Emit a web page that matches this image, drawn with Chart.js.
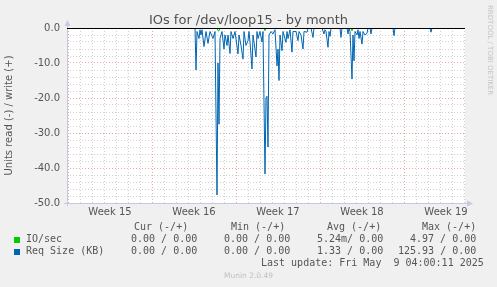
<!DOCTYPE html>
<html>
<head>
<meta charset="utf-8">
<script src="https://cdn.jsdelivr.net/npm/chart.js@4/dist/chart.umd.min.js"></script>
<style>
body { margin: 0; background: #f0f0f0; }
#wrap { position: relative; width: 497px; height: 287px; overflow: hidden; }
#c { position: absolute; left: 0; top: 0; }
.t { position: absolute; white-space: pre; font-family: 'DejaVu Sans Mono', monospace; font-size: 10px; line-height: 10px; color: #555; }
.box { position: absolute; width: 6px; height: 6px; }
#title { position: absolute; left: 0; top: 13px; width: 497px; text-align: center; font-family: 'DejaVu Sans', sans-serif; font-size: 13px; line-height: 13px; color: #505050; }
#rrd { position: absolute; left: 486px; top: 5px; writing-mode: vertical-rl; font-family: 'DejaVu Sans', sans-serif; font-size: 7px; line-height: 8px; color: #c4c4c4; white-space: nowrap; }
#munin { position: absolute; left: 0; top: 272px; width: 497px; text-align: center; font-family: 'DejaVu Sans', sans-serif; font-size: 7.5px; line-height: 8px; color: #c0c0c0; }
</style>
</head>
<body>
<div id="wrap">
  <canvas id="c" width="497" height="287"></canvas>
  <div id="title">IOs for /dev/loop15 - by month</div>
  <div id="rrd">RRDTOOL / TOBI OETIKER</div>

  <div class="t" style="left:134px;top:222px">Cur (-/+)</div>
  <div class="t" style="left:231px;top:222px">Min (-/+)</div>
  <div class="t" style="left:327px;top:222px">Avg (-/+)</div>
  <div class="t" style="left:422px;top:222px">Max (-/+)</div>

  <div class="box" style="left:14px;top:237px;background:#00cc00"></div>
  <div class="t" style="left:26px;top:234px">IO/sec</div>
  <div class="t" style="left:131px;top:234px">0.00 / 0.00</div>
  <div class="t" style="left:224px;top:234px">0.00 / 0.00</div>
  <div class="t" style="left:317px;top:234px">5.24m/ 0.00</div>
  <div class="t" style="left:410px;top:234px">4.97 / 0.00</div>

  <div class="box" style="left:14px;top:249px;background:#0066b3"></div>
  <div class="t" style="left:26px;top:246px">Req Size (KB)</div>
  <div class="t" style="left:131px;top:246px">0.00 / 0.00</div>
  <div class="t" style="left:224px;top:246px">0.00 / 0.00</div>
  <div class="t" style="left:317px;top:246px">1.33 / 0.00</div>
  <div class="t" style="left:398px;top:246px">125.93 / 0.00</div>

  <div class="t" style="left:261px;top:258px">Last update: Fri May  9 04:00:11 2025</div>
  <div id="munin">Munin 2.0.49</div>
</div>
<script>
// hours since week 15 start, one sample every 2h
const reqHours = [
  -2, 126, 128, 130, 254, 256, 258, 262, 264, 266,
  268, 272, 276, 280, 284, 290, 294, 298, 300, 302,
  304, 308, 312, 314, 318, 320, 324, 326, 330, 334,
  340, 342, 346, 350, 352, 356, 360, 362, 364, 368,
  370, 372, 376, 378, 380, 384, 388, 390, 394, 396,
  398, 400, 402, 406, 410, 414, 418, 420, 422, 424,
  428, 430, 436, 438, 440, 444, 448, 450, 456, 460,
  462, 466, 470, 472, 478, 480, 486, 490, 492, 508,
  512, 514, 516, 520, 522, 524, 526, 544, 546, 548,
  558, 560, 562, 564, 568, 570, 572, 574, 578, 580,
  582, 584, 588, 590, 594, 598, 600, 604, 606, 608,
  650, 652, 654, 724, 726, 728, 794
];
// Req Size (KB), read side (drawn negative)
const reqRead = [
  0, 0, -0.3, 0, 0, -12, -1, -3, -0.5, -2,
  -0.5, -5.3, -1, -4.4, -1, -3, -1, -47.7, -10, -27.5,
  -3, -1, -6, -2, -5, -2, -7.3, -1, -3, -1,
  -7.4, -2, -5, -8.9, -1, -5, -3.6, -1, -4, -11.7,
  -2, -4, -8.3, -1, -3, -1, -4, -1, -41.7, -20,
  -19.5, -34, -2, -1, -1.7, -0.5, -10.8, -6, -15, -2,
  -6.5, -1, -4.1, -1, -3, -0.5, -6.9, -1, -1, -3.6,
  -1, -2, -6, -1, -1.2, 0, 0, -2.7, 0, 0,
  -1.7, -0.5, -1, -5.5, -1, -2.4, 0, 0, -2.7, 0,
  0, -1.7, 0, -1, -14.6, -2, -9.4, -1, -2, -0.5,
  -3, -1, -4.6, -1, -2, -1.5, 0, 0, -1.7, 0,
  0, -2.2, 0, 0, -1.2, 0, 0
];
// IO/sec, read side
const ioHours = [-2, 298, 300, 302, 304, 392, 394, 396, 566, 568, 570, 794];
const ioRead = [0, 0, -0.8, -0.8, 0, 0, -0.8, 0, 0, -0.8, 0, 0];

const weekLabels = ['Week 15', 'Week 16', 'Week 17', 'Week 18', 'Week 19'];
const yMin = -50, yMax = 0;
const xMin = -2, xMax = 794;

const RED = '#e8a8a8';
const GRAY = '#d2d2d2';
const AXIS = '#c8c8e0';

const muninPlugin = {
  id: 'munin',
  beforeDraw(chart) {
    const {ctx, chartArea: a} = chart;
    ctx.save();
    ctx.fillStyle = '#ffffff';
    ctx.fillRect(a.left, a.top, a.right - a.left, a.bottom - a.top);
    ctx.restore();
  },
  afterDatasetsDraw(chart) {
    const {ctx, chartArea: a, scales} = chart;
    const y0 = Math.round(scales.y.getPixelForValue(0)) + 0.5;
    const xl = Math.round(a.left) + 0.5;
    const yb = Math.round(a.bottom) + 0.5;
    ctx.save();
    ctx.lineWidth = 1;
    // axes
    ctx.strokeStyle = AXIS;
    ctx.beginPath();
    ctx.moveTo(xl, a.top - 3);
    ctx.lineTo(xl, a.bottom + 3);
    ctx.moveTo(a.left - 3, yb);
    ctx.lineTo(a.right + 3, yb);
    ctx.stroke();
    ctx.fillStyle = AXIS;
    ctx.beginPath();
    ctx.moveTo(xl - 3, a.top - 2);
    ctx.lineTo(xl + 3, a.top - 2);
    ctx.lineTo(xl, a.top - 8);
    ctx.closePath();
    ctx.fill();
    ctx.beginPath();
    ctx.moveTo(a.right + 2, yb - 3);
    ctx.lineTo(a.right + 2, yb + 3);
    ctx.lineTo(a.right + 8, yb);
    ctx.closePath();
    ctx.fill();
    // zero line
    ctx.strokeStyle = '#000000';
    ctx.beginPath();
    ctx.moveTo(a.left, y0);
    ctx.lineTo(a.right, y0);
    ctx.stroke();
    ctx.restore();
  }
};

new Chart(document.getElementById('c'), {
  type: 'line',
  data: {
    datasets: [
      {
        label: 'Req Size (KB)',
        data: reqHours.map((h, i) => ({x: h, y: reqRead[i]})),
        borderColor: '#0066b3',
        borderWidth: 1,
        borderJoinStyle: 'bevel',
        pointRadius: 0,
        fill: false,
        tension: 0
      },
      {
        label: 'IO/sec',
        data: ioHours.map((h, i) => ({x: h, y: ioRead[i]})),
        borderColor: '#00cc00',
        borderWidth: 1,
        pointRadius: 0,
        fill: false,
        tension: 0
      }
    ]
  },
  options: {
    responsive: false,
    animation: false,
    devicePixelRatio: 1,
    layout: {padding: {left: 0, top: 28, right: 32, bottom: 0}},
    plugins: {legend: {display: false}, tooltip: {enabled: false}, title: {display: false}},
    scales: {
      x: {
        type: 'linear',
        min: xMin,
        max: xMax,
        afterBuildTicks: axis => {
          const t = [];
          for (let v = 0; v <= xMax; v += 12) t.push({value: v});
          axis.ticks = t;
        },
        afterFit: axis => { axis.height = 84; },
        ticks: {
          autoSkip: false,
          maxRotation: 0,
          minRotation: 0,
          padding: 3,
          color: '#555',
          font: {family: 'DejaVu Sans', size: 10},
          callback: v => (v % 168 === 84 ? weekLabels[(v - 84) / 168] : '')
        },
        grid: {
          drawTicks: false,
          lineWidth: 1,
          color: c => {
            const v = c.tick ? c.tick.value : 1;
            if (v % 24 !== 0) return 'rgba(0,0,0,0)';
            return v % 168 === 0 ? RED : GRAY;
          }
        },
        border: {display: false, dash: [1, 2]}
      },
      y: {
        min: yMin,
        max: yMax,
        afterBuildTicks: axis => {
          const t = [];
          for (let v = yMin; v <= yMax; v += 2) t.push({value: v});
          axis.ticks = t;
        },
        afterFit: axis => { axis.width = 67; },
        ticks: {
          autoSkip: false,
          padding: 7,
          color: '#555',
          font: {family: 'DejaVu Sans', size: 10},
          callback: v => (v % 10 === 0 ? v.toFixed(1) : '')
        },
        grid: {
          drawTicks: false,
          lineWidth: 1,
          color: c => (c.tick && c.tick.value % 10 === 0 ? RED : GRAY)
        },
        border: {display: false, dash: [1, 2]},
        title: {
          display: true,
          text: 'Units read (-) / write (+)',
          color: '#555',
          font: {family: 'DejaVu Sans', size: 10},
          padding: {top: 3, bottom: 0}
        }
      }
    }
  },
  plugins: [muninPlugin]
});
</script>
</body>
</html>
